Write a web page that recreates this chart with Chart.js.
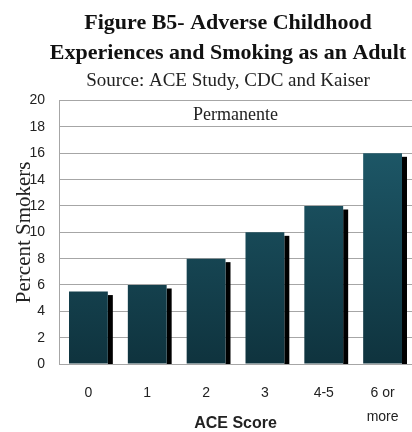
<!DOCTYPE html>
<html>
<head>
<meta charset="utf-8">
<script src="https://cdn.jsdelivr.net/npm/chart.js@4"></script>
<style>
  body { margin: 0; background: #fff; }
  #wrap { width: 412px; height: 432px; }
</style>
</head>
<body>
<div id="wrap"><canvas id="aceChart"></canvas></div>
<script>
// Data
const aceScores = ['0', '1', '2', '3', '4-5', ['6 or', 'more']];
const percentSmokers = [5.5, 6, 8, 10, 12, 16];
const yTicks = [0, 2, 4, 6, 8, 10, 12, 14, 16, 18, 20];

const serif = '"Liberation Serif", "Times New Roman", serif';
const sans = '"Liberation Sans", Arial, sans-serif';

// black drop shadow to the right of each bar
const barShadow = {
    id: 'barShadow',
    beforeDatasetsDraw(chart) {
        const ctx = chart.ctx;
        const base = chart.scales.y.getPixelForValue(0);
        ctx.save();
        ctx.fillStyle = '#000';
        chart.getDatasetMeta(0).data.forEach(bar => {
            const right = bar.x + bar.width / 2;
            ctx.fillRect(right, bar.y + 3.5, 5, base - bar.y - 3.5);
        });
        ctx.restore();
    }
};

// "Permanente" sits inside the plot between 18 and 20
const insideLabel = {
    id: 'insideLabel',
    afterDraw(chart) {
        const ctx = chart.ctx;
        const area = chart.chartArea;
        ctx.save();
        ctx.font = '18px ' + serif;
        ctx.fillStyle = '#222';
        ctx.textAlign = 'center';
        ctx.textBaseline = 'middle';
        ctx.fillText('Permanente', (area.left + area.right) / 2, chart.scales.y.getPixelForValue(19) + 1);
        ctx.restore();
    }
};

// the titles in the original sit a little right of the page centre
const titleShift = {
    id: 'titleShift',
    afterLayout(chart) {
        chart.boxes.forEach(box => {
            if (box.position === 'top' && box.options && box.options.text) {
                box.left += 22;
                box.right += 22;
            }
        });
    }
};

document.addEventListener('DOMContentLoaded', () => {
    const ctx = document.getElementById('aceChart').getContext('2d');

    new Chart(ctx, {
        type: 'bar',
        data: {
            labels: aceScores,
            datasets: [{
                data: percentSmokers,
                backgroundColor: function(context) {
                    const chart = context.chart;
                    const area = chart.chartArea;
                    if (!area) return '#1a5060';
                    const g = chart.ctx.createLinearGradient(0, area.top, 0, area.bottom);
                    g.addColorStop(0, '#205f70');
                    g.addColorStop(1, '#0f333e');
                    return g;
                },
                borderWidth: 0,
                categoryPercentage: 1,
                barPercentage: 0.66
            }]
        },
        options: {
            responsive: true,
            maintainAspectRatio: false,
            animation: false,
            layout: { padding: 0 },
            plugins: {
                legend: { display: false },
                tooltip: { enabled: false },
                title: {
                    display: true,
                    text: ['Figure B5- Adverse Childhood', 'Experiences and Smoking as an Adult'],
                    color: '#111',
                    font: { family: serif, size: 22, weight: 'bold', lineHeight: 1.36 },
                    padding: { top: 8, bottom: 0 }
                },
                subtitle: {
                    display: true,
                    text: 'Source: ACE Study, CDC and Kaiser',
                    color: '#222',
                    font: { family: serif, size: 19, lineHeight: 1.2 },
                    padding: { top: 2, bottom: 8 }
                }
            },
            scales: {
                x: {
                    grid: { display: false, drawTicks: false },
                    border: { color: '#a6a6a6' },
                    ticks: {
                        color: '#222',
                        font: { family: sans, size: 14, lineHeight: 1.714 },
                        padding: 17,
                        maxRotation: 0
                    },
                    title: {
                        display: true,
                        text: 'ACE Score',
                        color: '#222',
                        font: { family: sans, size: 16, weight: 'bold', lineHeight: 1 },
                        padding: 0
                    },
                    afterFit(scale) {
                        scale.height = 68;
                        scale.paddingLeft = 0;
                        scale.paddingRight = 0;
                    }
                },
                y: {
                    min: 0,
                    max: 20,
                    afterBuildTicks(scale) { scale.ticks = yTicks.map(v => ({ value: v })); },
                    grid: { color: '#a6a6a6', drawTicks: false },
                    border: { color: '#a6a6a6' },
                    ticks: {
                        color: '#222',
                        font: { family: sans, size: 14 },
                        padding: 14
                    },
                    title: {
                        display: true,
                        text: 'Percent Smokers',
                        color: '#222',
                        font: { family: serif, size: 21 },
                        padding: { top: 12, bottom: 0 }
                    },
                    afterFit(scale) { scale.width = 59; }
                }
            }
        },
        plugins: [barShadow, insideLabel, titleShift]
    });
});
</script>
</body>
</html>
